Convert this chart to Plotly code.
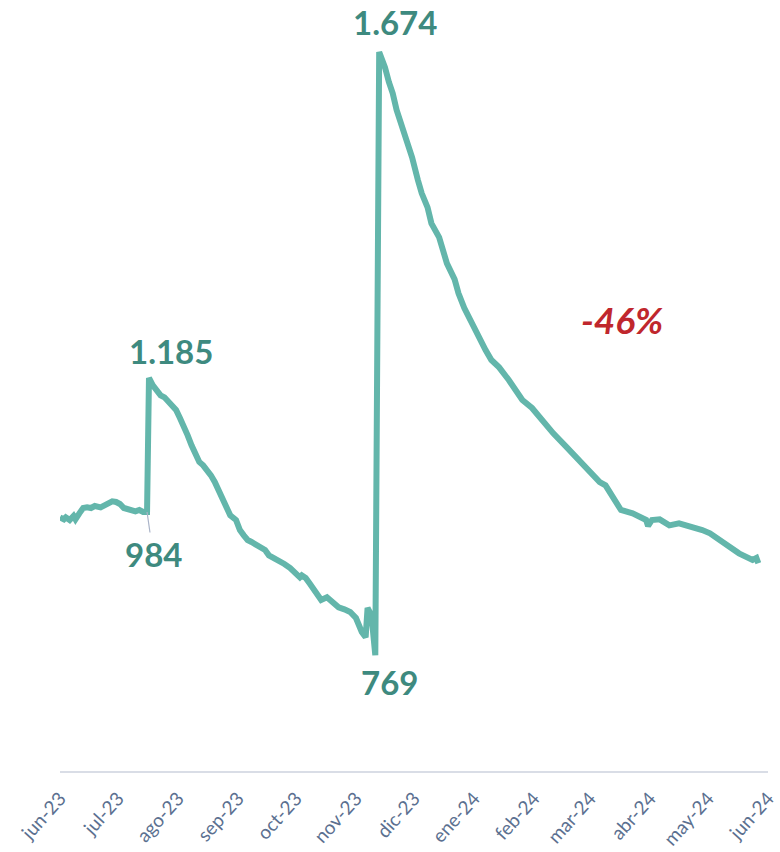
import plotly.graph_objects as go

dates = [
    "2023-06-01", "2023-06-03", "2023-06-04", "2023-06-06", "2023-06-08", "2023-06-09",
    "2023-06-11", "2023-06-13", "2023-06-15", "2023-06-17", "2023-06-19", "2023-06-22",
    "2023-06-24", "2023-06-26", "2023-06-28", "2023-06-30", "2023-07-02", "2023-07-04",
    "2023-07-06", "2023-07-08", "2023-07-10", "2023-07-12", "2023-07-14", "2023-07-16",
    "2023-07-17", "2023-07-19", "2023-07-21", "2023-07-23", "2023-07-25", "2023-07-27",
    "2023-07-29", "2023-07-31", "2023-08-02", "2023-08-04", "2023-08-06", "2023-08-08",
    "2023-08-10", "2023-08-12", "2023-08-14", "2023-08-16", "2023-08-18", "2023-08-20",
    "2023-08-22", "2023-08-24", "2023-08-26", "2023-08-28", "2023-08-31", "2023-09-02",
    "2023-09-04", "2023-09-06", "2023-09-08", "2023-09-10", "2023-09-12", "2023-09-15",
    "2023-09-17", "2023-09-20", "2023-09-22", "2023-09-25", "2023-09-28", "2023-09-30",
    "2023-10-03", "2023-10-04", "2023-10-06", "2023-10-08", "2023-10-11", "2023-10-14",
    "2023-10-17", "2023-10-20", "2023-10-23", "2023-10-26", "2023-10-29", "2023-11-01",
    "2023-11-04", "2023-11-06", "2023-11-07", "2023-11-09", "2023-11-11", "2023-11-13",
    "2023-11-16", "2023-11-18", "2023-11-20", "2023-11-22", "2023-11-25", "2023-11-27",
    "2023-11-30", "2023-12-03", "2023-12-05", "2023-12-08", "2023-12-10", "2023-12-14",
    "2023-12-18", "2023-12-22", "2023-12-24", "2023-12-27", "2023-12-31", "2024-01-03",
    "2024-01-07", "2024-01-10", "2024-01-14", "2024-01-19", "2024-01-26", "2024-01-31",
    "2024-02-04", "2024-02-11", "2024-02-18", "2024-02-23", "2024-03-01", "2024-03-06",
    "2024-03-09", "2024-03-13", "2024-03-15", "2024-03-17", "2024-03-23", "2024-03-27",
    "2024-03-30", "2024-03-31", "2024-04-02", "2024-04-06", "2024-04-11", "2024-04-16",
    "2024-04-20", "2024-04-23", "2024-04-28", "2024-05-02", "2024-05-05", "2024-05-10",
    "2024-05-17", "2024-05-24", "2024-05-26", "2024-05-27",
]
values = [
    976, 973, 976, 972, 978, 973,
    982, 990, 991, 990, 993, 991,
    994, 997, 1000, 999, 996, 990,
    988, 988, 985, 987, 984, 984,
    1185, 1174, 1167, 1159, 1156, 1149,
    1144, 1137, 1125, 1114, 1099, 1084,
    1069, 1059, 1054, 1047, 1039, 1029,
    1017, 1005, 994, 979, 972, 957,
    949, 942, 939, 936, 933, 927,
    919, 915, 910, 906, 900, 894,
    886, 889, 885, 877, 864, 852,
    856, 847, 841, 838, 834, 825,
    804, 796, 840, 829, 769, 1674,
    1651, 1629, 1612, 1587, 1561, 1546,
    1516, 1482, 1462, 1441, 1417, 1396,
    1357, 1333, 1312, 1290, 1267, 1246,
    1227, 1212, 1201, 1182, 1152, 1140,
    1126, 1102, 1081, 1065, 1044, 1029,
    1024, 1005, 994, 987, 982, 976,
    972, 963, 972, 973, 964, 967,
    964, 960, 957, 952, 946, 934,
    922, 912, 915, 907,
]

tick_dates = [
    "2023-06-01", "2023-07-01", "2023-08-01", "2023-09-01", "2023-10-01", "2023-11-01",
    "2023-12-01", "2024-01-01", "2024-02-01", "2024-03-01", "2024-04-01", "2024-05-01",
    "2024-06-01",
]
tick_labels = [
    "jun-23", "jul-23", "ago-23", "sep-23", "oct-23", "nov-23", "dic-23",
    "ene-24", "feb-24", "mar-24", "abr-24", "may-24", "jun-24",
]

line_color = "#63b6ab"
label_color = "#3e8a7f"
red = "#c0272d"
font_family = "Lato, 'Open Sans', sans-serif"

fig = go.Figure()
fig.add_trace(go.Scatter(
    x=dates, y=values, mode="lines",
    line=dict(color=line_color, width=6),
    hoverinfo="skip", showlegend=False,
))

lab_font = dict(family=font_family, size=33, color=label_color, weight="bold")

# 1.185 peak
i_185 = values.index(1185)
fig.add_annotation(x=dates[i_185], y=values[i_185], text="1.185", showarrow=False,
                   xshift=22, yshift=27, font=lab_font)
# 984 trough (with leader)
i_984 = i_185 - 1
fig.add_annotation(x=dates[i_984], y=values[i_984], text="984", showarrow=True,
                   arrowhead=0, arrowwidth=1.2, arrowcolor="#aab4c8",
                   ax=6, ay=42, font=lab_font, standoff=0)
# 769 trough
i_769 = values.index(769)
fig.add_annotation(x=dates[i_769], y=values[i_769], text="769", showarrow=False,
                   xshift=14, yshift=-27, font=lab_font)
# 1.674 peak
i_1674 = values.index(1674)
fig.add_annotation(x=dates[i_1674], y=values[i_1674], text="1.674", showarrow=False,
                   xshift=16, yshift=30, font=lab_font)
# -46%
fig.add_annotation(x=0.794, y=0.585, xref="paper", yref="paper", text="<i>-46%</i>",
                   xanchor="center", yanchor="middle", showarrow=False,
                   font=dict(family=font_family, size=37, color=red, weight="bold"))

fig.update_layout(
    width=780, height=852,
    margin=dict(l=60, r=12, t=0, b=81, autoexpand=False),
    paper_bgcolor="white", plot_bgcolor="white",
    font=dict(family=font_family),
    xaxis=dict(
        type="date",
        range=["2023-06-01", "2024-06-01"],
        tickvals=tick_dates, ticktext=tick_labels,
        tickangle=-48, automargin=False,
        tickfont=dict(size=19, color="#5b7090", family=font_family),
        showgrid=False, zeroline=False,
        showline=True, linecolor="#d9dde6", linewidth=2,
        ticks="", ticklabelstandoff=7,
    ),
    yaxis=dict(
        range=[595.5, 1752],
        visible=False, showgrid=False, zeroline=False,
    ),
)

fig.write_html("out.html")
